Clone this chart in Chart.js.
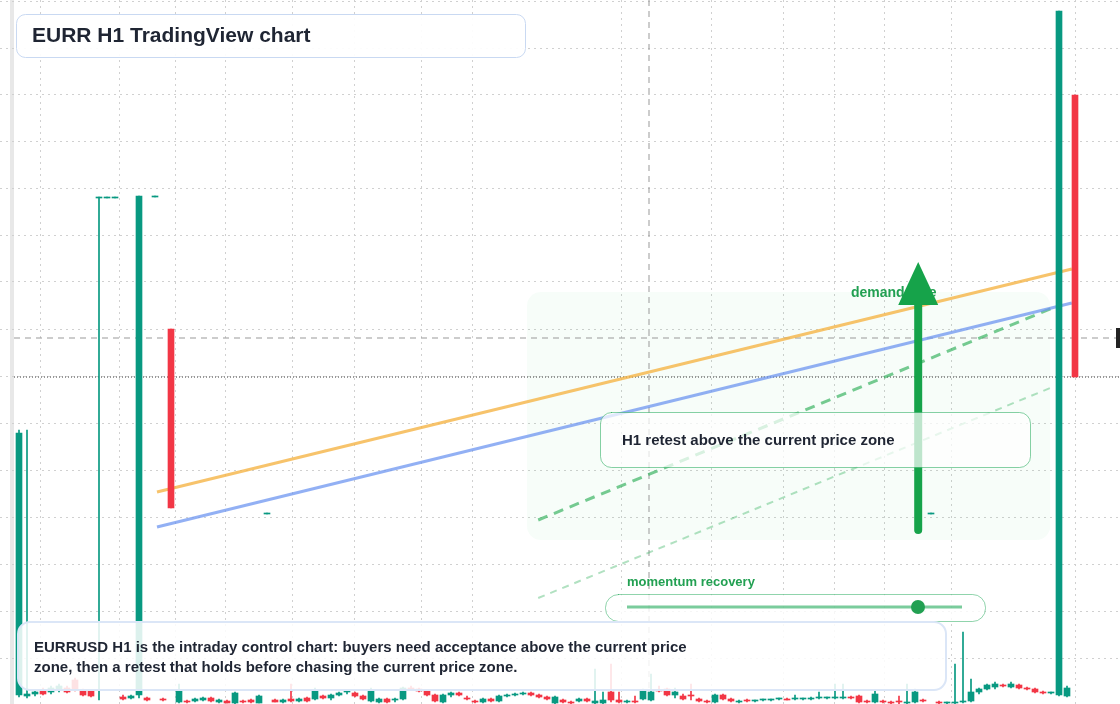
<!DOCTYPE html>
<html><head><meta charset="utf-8">
<script src="https://cdn.jsdelivr.net/npm/chart.js@4"></script>
<style>html,body{margin:0;padding:0;background:#fff}#wrap{width:1120px;height:704px;position:relative}</style>
</head><body><div id="wrap"><canvas id="c"></canvas></div>
<script>
// candle data (hour index, price units)
const opens  = [9,8,10,14,12,14,16,24,14,13,506,506,506,7,6,9,6,507,5,375,2,3,3,4,6,2,3,1,3,4,1,190,4,2,5,3,6,5,8,6,9,12,11,8,3,2,5,4,5,16,15,13,9,2,9,11,6,3,2,5,3,8,9,10,11,9,7,1,4,2,3,5,1,1,12,4,2,3,5,4,14,15,9,8,9,5,3,2,9,5,2,4,3,4,4,5,5,5,5,5,6,6,6,6,7,8,3,2,3,2,3,1,2,4,190,2,1,1,2,3,12,15,17,19,17,19,16,15,12,11,9,8,609];
const highs  = [274,274,14,16,18,20,18,26,15,14,507,507,507,9,9,508,7,508,6,375,20,4,6,7,7,5,4,12,4,5,9,191,5,5,20,6,7,16,9,10,12,14,12,9,16,6,6,6,17,18,16,14,10,10,12,12,8,4,6,6,9,10,11,12,12,10,8,8,5,3,6,6,35,12,40,12,4,8,15,30,18,16,16,10,20,6,4,10,10,6,4,5,4,5,5,6,6,9,6,7,12,7,20,20,8,9,4,14,4,3,8,20,15,5,191,3,2,40,72,25,16,20,22,20,22,20,17,16,13,12,693,18,609];
const lows   = [7,6,8,9,10,12,11,13,8,7,4,506,506,4,5,6,3,507,3,196,1,1,2,3,2,1,1,0,1,1,1,190,2,1,2,2,2,4,5,4,8,10,7,4,2,1,1,2,4,14,12,8,2,1,7,8,4,1,1,2,2,7,8,9,8,6,4,0,1,0,2,2,0,0,2,1,1,1,4,3,12,8,6,4,4,2,1,1,4,2,1,2,2,3,3,4,4,4,4,4,5,5,5,5,5,1,1,1,1,0,0,0,1,2,190,0,0,0,1,2,10,14,15,17,16,15,14,11,10,10,8,7,327];
const closes = [271,10,12,10,16,18,12,14,9,8,507,507,507,5,8,508,4,508,4,196,13,2,5,6,3,4,1,11,2,2,8,191,2,4,3,5,3,14,6,9,11,13,8,5,14,5,2,5,16,15,13,9,3,9,11,9,5,2,5,3,8,9,10,11,9,7,5,7,2,1,5,3,3,4,4,2,3,2,14,12,13,9,12,5,8,3,2,9,5,3,3,3,4,4,5,5,4,5,5,6,6,6,6,7,6,2,2,10,2,1,2,2,12,3,191,1,1,2,3,12,15,19,20,18,20,16,15,12,11,11,693,16,327];
const hours = opens.map((_, i) => i);
// overlay levels (price units) and trend lines (hour, price)
const resistanceLevel = 366, supportLevel = 327, crosshairHour = 78.75;
const orangeLine = [{x:17.25,y:212},{x:131.6,y:435}];
const blueLine = [{x:17.25,y:177},{x:131.6,y:401}];
const greenDashed = [{x:64.9,y:184},{x:130.1,y:399}];
const lightDashed = [{x:64.9,y:106},{x:128.9,y:316}];
const demandZone = {x0:63.5,x1:128.9,y0:164,y1:412};
const demandArrow = {x:112.4,y0:174,y1:442};
const xGrid = [2.6,12.5,19.5,25.75,34.1,41.9,50.25,56.6,75.25,86.5,95.5,101.9,108.1,116.5,132];
const yGrid = [46,93,140,187,234,281,328,375,422,469,516,563,609,656,703];

const UP = '#089981', DN = '#f23645';
const col = hours.map(i => closes[i] >= opens[i] ? UP : DN);
const wicks = hours.map(i => ({x:i, y:[lows[i], highs[i]]}));
const bodies = hours.map(i => {let a=Math.min(opens[i],closes[i]),b=Math.max(opens[i],closes[i]); if(b-a<1)b=a+1; return {x:i,y:[a,b]};});

function rr(ctx,x,y,w,h,r){ctx.beginPath();ctx.roundRect(x,y,w,h,r);}
const overlay = {
  id:'overlay',
  beforeDraw(ch){const c=ch.ctx;c.save();c.fillStyle='#e8e8e8';c.fillRect(10,0,4,704);c.restore();},
  beforeDatasetsDraw(ch){
    const c=ch.ctx,X=ch.scales.x,Y=ch.scales.y;
    c.save();
    c.strokeStyle='#d0d0d0';c.lineWidth=1;c.setLineDash([2,4]);
    xGrid.forEach(v=>{const px=Math.round(X.getPixelForValue(v))+0.5;c.beginPath();c.moveTo(px,0);c.lineTo(px,704);c.stroke();});
    c.setLineDash([]);
    c.fillStyle='rgba(34,197,94,0.035)';
    rr(c,X.getPixelForValue(demandZone.x0),Y.getPixelForValue(demandZone.y1),X.getPixelForValue(demandZone.x1)-X.getPixelForValue(demandZone.x0),Y.getPixelForValue(demandZone.y0)-Y.getPixelForValue(demandZone.y1),14);c.fill();
    c.setLineDash([6,5]);c.strokeStyle='#999';c.lineWidth=1;
    c.beginPath();c.moveTo(14,Y.getPixelForValue(resistanceLevel));c.lineTo(1120,Y.getPixelForValue(resistanceLevel));c.stroke();
    c.beginPath();c.moveTo(X.getPixelForValue(crosshairHour),0);c.lineTo(X.getPixelForValue(crosshairHour),704);c.stroke();
    c.setLineDash([1,2]);c.strokeStyle='#333';
    c.beginPath();c.moveTo(14,Y.getPixelForValue(supportLevel));c.lineTo(1120,Y.getPixelForValue(supportLevel));c.stroke();
    c.setLineDash([]);c.fillStyle='#222';c.fillRect(1116,Y.getPixelForValue(resistanceLevel)-10,6,20);
    c.restore();
  },
  afterDraw(ch){
    const c=ch.ctx,X=ch.scales.x,Y=ch.scales.y;
    c.save();
    c.font='bold 14px "Liberation Sans", Arial';c.fillStyle='#22a052';c.textBaseline='middle';
    c.fillText('demand side',851,293);
    const ax=X.getPixelForValue(demandArrow.x),ay0=Y.getPixelForValue(demandArrow.y0),ay1=Y.getPixelForValue(demandArrow.y1);
    c.strokeStyle='#16a34a';c.lineWidth=8;c.lineCap='round';
    c.beginPath();c.moveTo(ax,ay0);c.lineTo(ax,ay1+40);c.stroke();
    c.fillStyle='#16a34a';c.beginPath();c.moveTo(ax,ay1);c.lineTo(ax-20,ay1+43);c.lineTo(ax+20,ay1+43);c.closePath();c.fill();
    c.lineWidth=1;c.fillStyle='rgba(255,255,255,0.72)';c.strokeStyle='rgba(34,170,90,0.55)';
    rr(c,600.5,412.5,430,55,11);c.fill();c.stroke();
    c.fillStyle='#1f2533';c.font='bold 15px "Liberation Sans", Arial';c.fillText('H1 retest above the current price zone',622,441);
    c.fillStyle='#22a052';c.font='bold 13px "Liberation Sans", Arial';c.fillText('momentum recovery',627,582);
    c.fillStyle='rgba(255,255,255,0.8)';c.strokeStyle='rgba(34,170,90,0.5)';
    rr(c,605.5,594.5,380,27,13);c.fill();c.stroke();
    c.strokeStyle='rgba(34,170,90,0.6)';c.lineWidth=3;c.lineCap='butt';
    c.beginPath();c.moveTo(627,607);c.lineTo(962,607);c.stroke();
    c.fillStyle='#22a052';c.beginPath();c.arc(918,607,7,0,Math.PI*2);c.fill();
    c.lineWidth=2;c.fillStyle='rgba(255,255,255,0.86)';c.strokeStyle='#dbe6f7';
    rr(c,18,622,928,68,12);c.fill();c.stroke();
    c.fillStyle='#1f2533';c.font='bold 15px "Liberation Sans", Arial';
    c.fillText('EURRUSD H1 is the intraday control chart: buyers need acceptance above the current price',34,648);
    c.fillText('zone, then a retest that holds before chasing the current price zone.',34,668);
    c.lineWidth=1;c.fillStyle='rgba(255,255,255,0.92)';c.strokeStyle='#c9d9f2';
    rr(c,16.5,14.5,509,43,9);c.fill();c.stroke();
    c.fillStyle='#1f2533';c.font='bold 21px "Liberation Sans", Arial';c.fillText('EURR H1 TradingView chart',32,36);
    c.restore();
  }
};

new Chart(document.getElementById('c'),{
  data:{datasets:[
    {type:'line',data:orangeLine,borderColor:'rgba(245,180,70,0.8)',borderWidth:3,pointRadius:0,order:3},
    {type:'line',data:blueLine,borderColor:'rgba(110,150,240,0.75)',borderWidth:3,pointRadius:0,order:3},
    {type:'line',data:greenDashed,borderColor:'rgba(60,180,100,0.7)',borderWidth:3,borderDash:[10,7],pointRadius:0,order:3},
    {type:'line',data:lightDashed,borderColor:'rgba(60,180,100,0.4)',borderWidth:2,borderDash:[7,6],pointRadius:0,order:3},
    {type:'bar',data:wicks,backgroundColor:col,barThickness:1,grouped:false,order:2},
    {type:'bar',data:bodies,backgroundColor:col,barThickness:6,grouped:false,order:1}
  ]},
  options:{
    responsive:true,maintainAspectRatio:false,animation:false,
    layout:{padding:0},
    plugins:{legend:{display:false},tooltip:{enabled:false}},
    scales:{
      x:{type:'linear',min:-2.375,max:137.625,offset:false,
        ticks:{display:false},border:{display:false},grid:{display:false,drawTicks:false}},
      y:{min:0,max:704,
        afterBuildTicks:s=>{s.ticks=yGrid.map(v=>({value:v}));},
        ticks:{display:false},border:{display:false,dash:[2,4]},
        grid:{drawTicks:false,color:'#d0d0d0'}}
    }
  },
  plugins:[overlay]
});
</script></body></html>
